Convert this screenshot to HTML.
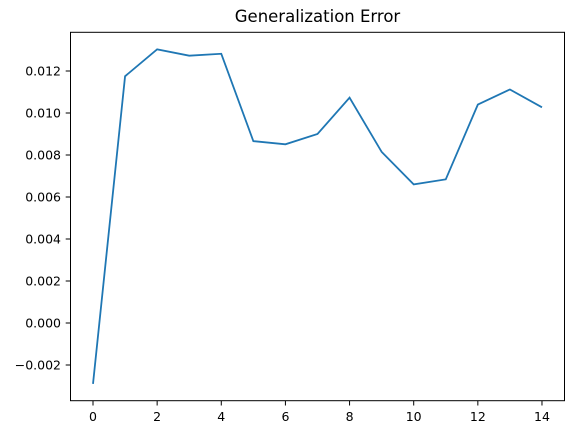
<!DOCTYPE html>
<html><head><meta charset="utf-8"><style>
body{margin:0;background:#fff;}
svg text{font-family:"DejaVu Sans","Liberation Sans",sans-serif;fill:#000;}
</style></head><body>
<svg width="576" height="435" viewBox="0 0 576 435">
<rect width="576" height="435" fill="#fff"/>
<text x="317.5" y="22" font-size="16.5" text-anchor="middle">Generalization Error</text>
<g id="axes"></g>
<path id="line" fill="none" stroke="#1f77b4" stroke-width="1.8"/>
<rect x="70.5" y="32.3" width="494" height="368.4" fill="none" stroke="#000" stroke-width="1"/>
</svg>
<script>
const xs=[0,1,2,3,4,5,6,7,8,9,10,11,12,13,14];
const values=[-0.0029,0.01175,0.01303,0.01273,0.01282,0.00866,0.00851,0.00900,0.01073,0.00815,0.00660,0.00684,0.01040,0.01112,0.01027];
const xTicks=[0,2,4,6,8,10,12,14];
const yTicks=[-0.002,0,0.002,0.004,0.006,0.008,0.010,0.012];
const yLabels=["\u22120.002","0.000","0.002","0.004","0.006","0.008","0.010","0.012"];
const X=v=>93+v*32.07;
const Y=v=>323-v*21000;
const ns="http://www.w3.org/2000/svg";
const g=document.getElementById('axes');
function mk(t,a){const e=document.createElementNS(ns,t);for(const k in a)e.setAttribute(k,a[k]);g.appendChild(e);return e;}
xTicks.forEach(t=>{
 const l=mk('line',{x1:X(t),x2:X(t),y1:400.7,y2:405.5,stroke:'#000','stroke-width':1});
 
 
 const tx=mk('text',{x:X(t),y:421,'font-size':12.5,'text-anchor':'middle'});tx.textContent=t;
 
 
});
yTicks.forEach((t,i)=>{
 const l=mk('line',{x1:65.7,x2:70.5,y1:Y(t),y2:Y(t),stroke:'#000','stroke-width':1});
 
 
 const tx=mk('text',{x:61,y:Y(t)+4.5,'font-size':12.5,'text-anchor':'end'});tx.textContent=yLabels[i];
 
 
});
document.getElementById('line').setAttribute('d',values.map((v,i)=>(i?'L':'M')+X(xs[i])+','+Y(v)).join(''));
</script>
</body></html>
